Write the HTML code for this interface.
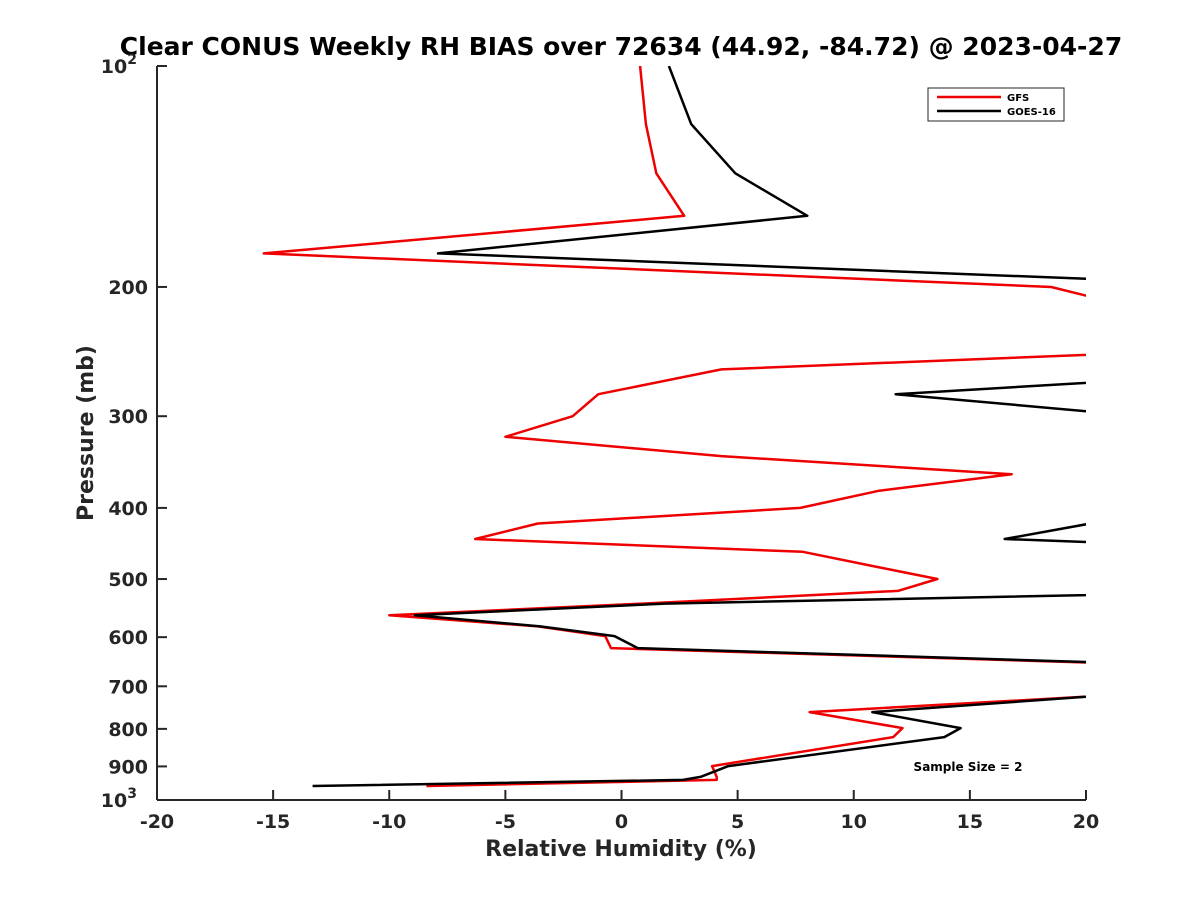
<!DOCTYPE html>
<html><head><meta charset="utf-8"><style>
body{margin:0;background:#fff}
svg{display:block;font-family:"DejaVu Sans","Liberation Sans",sans-serif;font-weight:bold}
</style></head><body>
<svg id="chart" width="1200" height="900" viewBox="0 0 1200 900">
<defs><clipPath id="plotclip"><rect x="157" y="66" width="929" height="734"/></clipPath></defs>
<text x="621" y="55" font-size="25" text-anchor="middle" fill="#000">Clear CONUS Weekly RH BIAS over 72634 (44.92, -84.72) @ 2023-04-27</text>
<g id="axes"></g>
<g id="series" clip-path="url(#plotclip)"></g>
<text x="621" y="856" font-size="22" text-anchor="middle" fill="#262626">Relative Humidity (%)</text>
<text transform="translate(93,433) rotate(-90)" font-size="22" text-anchor="middle" fill="#262626">Pressure (mb)</text>
<g>
<rect x="928" y="88" width="136" height="33" fill="#fff" stroke="#262626" stroke-width="1"/>
<line x1="937" y1="97" x2="1001" y2="97" stroke="#e00" stroke-width="2.5"/>
<text x="1007" y="101" font-size="10" fill="#000">GFS</text>
<line x1="937" y1="111" x2="1001" y2="111" stroke="#000" stroke-width="2.5"/>
<text x="1007" y="115" font-size="10" fill="#000">GOES-16</text>
</g>
<text x="968" y="771" font-size="12" text-anchor="middle" fill="#000">Sample Size = 2</text>
</svg>
<script>
const pressures = [100,120,140,160,180,200,225,240,259,280,300,320,340,360,379,400,420,441,459,482,500,519,540,560,580,598,621,650,700,759,798,821,899,930,939,957];
const gfsValues = [0.8,1.05,1.5,2.7,-15.4,18.5,25,30.5,4.3,-1.0,-2.1,-5.0,4.3,16.8,11.1,7.7,-3.6,-6.3,7.8,11.1,13.6,11.9,0.9,-10.0,-3.6,-0.7,-0.45,20.3,28,8.1,12.1,11.7,3.9,4.1,4.1,-8.4];
const goesValues = [2.04,3.0,4.9,8.0,-7.9,29,45,40,29.8,11.8,22.4,30,30,30,30,30,20.2,16.5,31.5,30,30,29,1.87,-8.9,-3.5,-0.3,0.7,21,26.3,10.8,14.6,13.9,4.6,3.4,2.65,-13.3];
const xTicks = [-20,-15,-10,-5,0,5,10,15,20];
const yTicks = [100,200,300,400,500,600,700,800,900,1000];
const yTickLabels = ["10^2","200","300","400","500","600","700","800","900","10^3"];

const X0=157,X1=1086,Y0=66,Y1=800;
const xs=v=>X0+(v+20)/40*(X1-X0);
const ys=p=>Y0+(Math.log10(p)-2)*(Y1-Y0);
const NS="http://www.w3.org/2000/svg";
function mk(tag,attrs,parent){const e=document.createElementNS(NS,tag);for(const k in attrs)e.setAttribute(k,attrs[k]);parent.appendChild(e);return e;}
const axes=document.getElementById('axes');
let l=mk('line',{x1:X0,y1:Y0,x2:X0,y2:Y1,stroke:'#262626','stroke-width':2},axes);


l=mk('line',{x1:X0,y1:Y1,x2:X1,y2:Y1,stroke:'#262626','stroke-width':2},axes);


xTicks.forEach(v=>{
 const t=mk('line',{x1:xs(v),y1:Y1,x2:xs(v),y2:Y1-10,stroke:'#262626','stroke-width':2},axes);
 
 
 const tx=mk('text',{x:xs(v),y:Y1+28,'font-size':19,'text-anchor':'middle',fill:'#262626'},axes);
 tx.textContent=String(v);
 
 
});
yTicks.forEach((p,i)=>{
 const y=ys(p);
 const t=mk('line',{x1:X0,y1:y,x2:X0+10,y2:y,stroke:'#262626','stroke-width':2},axes);
 
 
 const lab=yTickLabels[i];
 const tx=mk('text',{x:X0-9,y:y+7,'font-size':19,'text-anchor':'end',fill:'#262626'},axes);
 
 
 if(lab.indexOf('^')>=0){
  const [b,e]=lab.split('^');
  const t1=mk('tspan',{},tx);t1.textContent=b;
  const t2=mk('tspan',{dy:-9,'font-size':14},tx);t2.textContent=e;
  tx.setAttribute('x',X0-20);
 } else tx.textContent=lab;
});
const series=document.getElementById('series');
function drawLine(vals,color,name){
 const pts=vals.map((v,i)=>xs(v).toFixed(1)+','+ys(pressures[i]).toFixed(1)).join(' ');
 const pl=mk('polyline',{points:pts,fill:'none',stroke:color,'stroke-width':2.5,'stroke-linejoin':'round'},series);
 
 
}
drawLine(gfsValues,'#e00','gfs-line');
drawLine(goesValues,'#000','goes16-line');
</script>
</body></html>
